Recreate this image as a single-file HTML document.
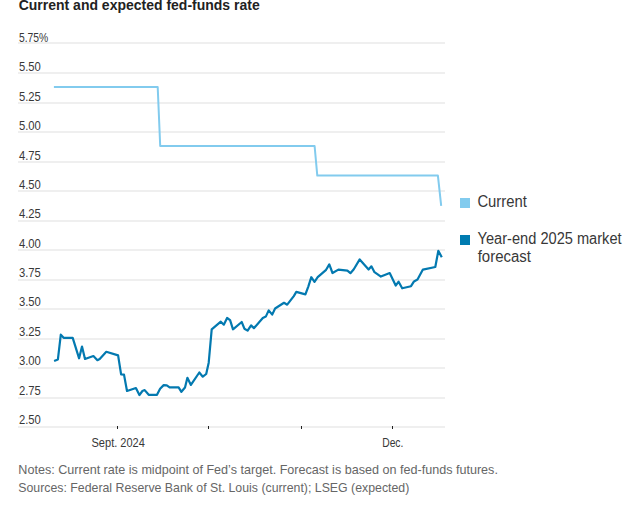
<!DOCTYPE html>
<html><head><meta charset="utf-8"><style>
html,body{margin:0;padding:0;background:#fff;width:642px;height:507px;overflow:hidden}
svg{display:block}
text{font-family:"Liberation Sans",sans-serif}
.g{stroke:#ebebeb;stroke-width:1.6}
.yl{font-size:13.5px;fill:#383838}
.xl{font-size:13px;fill:#383838}
.tk{stroke:#222;stroke-width:1.2}
.lg{font-size:15.8px;fill:#383838}
.nt{font-size:13px;fill:#666}
.ti{font-size:15px;font-weight:bold;fill:#222}
</style></head><body>
<svg width="642" height="507" viewBox="0 0 642 507">
<text x="18.7" y="9.9" class="ti" textLength="241" lengthAdjust="spacingAndGlyphs">Current and expected fed-funds rate</text>
<rect x="18" y="42" width="427" height="2" fill="#efefef"/><rect x="18" y="72" width="427" height="2" fill="#efefef"/><rect x="18" y="102" width="427" height="2" fill="#efefef"/><rect x="18" y="131" width="427" height="2" fill="#efefef"/><rect x="18" y="161" width="427" height="2" fill="#efefef"/><rect x="18" y="190" width="427" height="2" fill="#efefef"/><rect x="18" y="220" width="427" height="2" fill="#efefef"/><rect x="18" y="249" width="427" height="2" fill="#efefef"/><rect x="18" y="279" width="427" height="2" fill="#efefef"/><rect x="18" y="308" width="427" height="2" fill="#efefef"/><rect x="18" y="338" width="427" height="2" fill="#efefef"/><rect x="18" y="367" width="427" height="2" fill="#efefef"/><rect x="18" y="397" width="427" height="2" fill="#efefef"/><rect x="18" y="426" width="427" height="2" fill="#efefef"/>
<text x="18.9" y="42.00" class="yl" textLength="29.3" lengthAdjust="spacingAndGlyphs">5.75%</text><text x="18.9" y="71.39" class="yl" textLength="21.9" lengthAdjust="spacingAndGlyphs">5.50</text><text x="18.9" y="100.77" class="yl" textLength="21.9" lengthAdjust="spacingAndGlyphs">5.25</text><text x="18.9" y="130.16" class="yl" textLength="21.9" lengthAdjust="spacingAndGlyphs">5.00</text><text x="18.9" y="159.54" class="yl" textLength="21.9" lengthAdjust="spacingAndGlyphs">4.75</text><text x="18.9" y="188.93" class="yl" textLength="21.9" lengthAdjust="spacingAndGlyphs">4.50</text><text x="18.9" y="218.31" class="yl" textLength="21.9" lengthAdjust="spacingAndGlyphs">4.25</text><text x="18.9" y="247.70" class="yl" textLength="21.9" lengthAdjust="spacingAndGlyphs">4.00</text><text x="18.9" y="277.08" class="yl" textLength="21.9" lengthAdjust="spacingAndGlyphs">3.75</text><text x="18.9" y="306.47" class="yl" textLength="21.9" lengthAdjust="spacingAndGlyphs">3.50</text><text x="18.9" y="335.85" class="yl" textLength="21.9" lengthAdjust="spacingAndGlyphs">3.25</text><text x="18.9" y="365.24" class="yl" textLength="21.9" lengthAdjust="spacingAndGlyphs">3.00</text><text x="18.9" y="394.62" class="yl" textLength="21.9" lengthAdjust="spacingAndGlyphs">2.75</text><text x="18.9" y="424.00" class="yl" textLength="21.9" lengthAdjust="spacingAndGlyphs">2.50</text>
<rect x="117" y="426" width="1" height="3" fill="#222"/><rect x="208" y="426" width="1" height="3" fill="#222"/><rect x="301" y="426" width="1" height="3" fill="#222"/><rect x="392" y="426" width="1" height="3" fill="#222"/>
<polyline points="53.9,87.0 157.7,87.0 160.2,146.0 314.6,146.0 317.3,175.6 437.9,175.6 441.2,205.9" fill="none" stroke="#82cbee" stroke-width="2" stroke-linejoin="round"/>
<polyline points="54.1,360.9 57.9,359.4 60.8,334.6 63.6,337.8 72.7,337.8 79.1,358.3 82.0,346.6 85.0,359.0 93.4,356.0 97.4,360.2 99.7,359.0 106.3,351.8 118.1,355.4 121.1,374.4 124.0,374.6 127.0,391.0 135.9,388.0 139.4,395.1 142.4,391.0 144.7,390.1 148.7,394.8 157.0,394.8 160.1,388.7 163.7,385.1 166.8,385.3 169.6,387.3 178.6,387.3 181.4,391.8 185.0,387.5 187.4,377.8 190.9,384.9 199.3,372.5 202.8,376.7 206.2,374.0 208.7,362.7 211.7,329.4 220.8,321.7 223.8,324.7 227.1,318.0 230.1,320.1 233.0,329.3 241.7,322.0 244.4,328.7 247.6,330.6 251.1,325.3 253.9,328.2 262.8,318.0 265.8,316.6 268.7,310.4 272.2,314.6 275.1,308.5 284.0,302.8 287.2,304.7 293.8,296.1 296.3,291.9 305.4,294.4 308.3,286.6 311.3,277.2 314.5,281.8 317.7,277.2 326.1,269.8 329.3,264.4 332.5,273.0 338.4,269.6 347.4,270.7 350.4,273.2 353.8,269.2 359.7,259.4 368.6,269.5 371.4,266.3 374.5,272.2 380.9,276.6 389.7,273.1 395.7,285.6 398.6,281.7 402.2,288.3 411.0,286.2 414.0,281.4 417.5,279.6 422.9,269.6 435.3,267.0 438.3,250.9 441.8,257.2" fill="none" stroke="#0379b0" stroke-width="2.2" stroke-linejoin="round" stroke-linecap="butt"/>
<text x="91.5" y="447" class="xl" textLength="53.4" lengthAdjust="spacingAndGlyphs">Sept. 2024</text>
<text x="382.2" y="447" class="xl" textLength="21.2" lengthAdjust="spacingAndGlyphs">Dec.</text>
<rect x="460" y="198" width="10" height="10" fill="#82cbee"/>
<text x="477.4" y="207.2" class="lg" textLength="49.5" lengthAdjust="spacingAndGlyphs">Current</text>
<rect x="460" y="235" width="10" height="10" fill="#007bb0"/>
<text x="477.6" y="244.3" class="lg" textLength="144" lengthAdjust="spacingAndGlyphs">Year-end 2025 market</text>
<text x="477.7" y="261.6" class="lg" textLength="53.3" lengthAdjust="spacingAndGlyphs">forecast</text>
<text x="18.3" y="473.8" class="nt" textLength="479.6" lengthAdjust="spacingAndGlyphs">Notes: Current rate is midpoint of Fed’s target. Forecast is based on fed-funds futures.</text>
<text x="18.3" y="491.8" class="nt" textLength="391.0" lengthAdjust="spacingAndGlyphs">Sources: Federal Reserve Bank of St. Louis (current); LSEG (expected)</text>
</svg>
</body></html>
